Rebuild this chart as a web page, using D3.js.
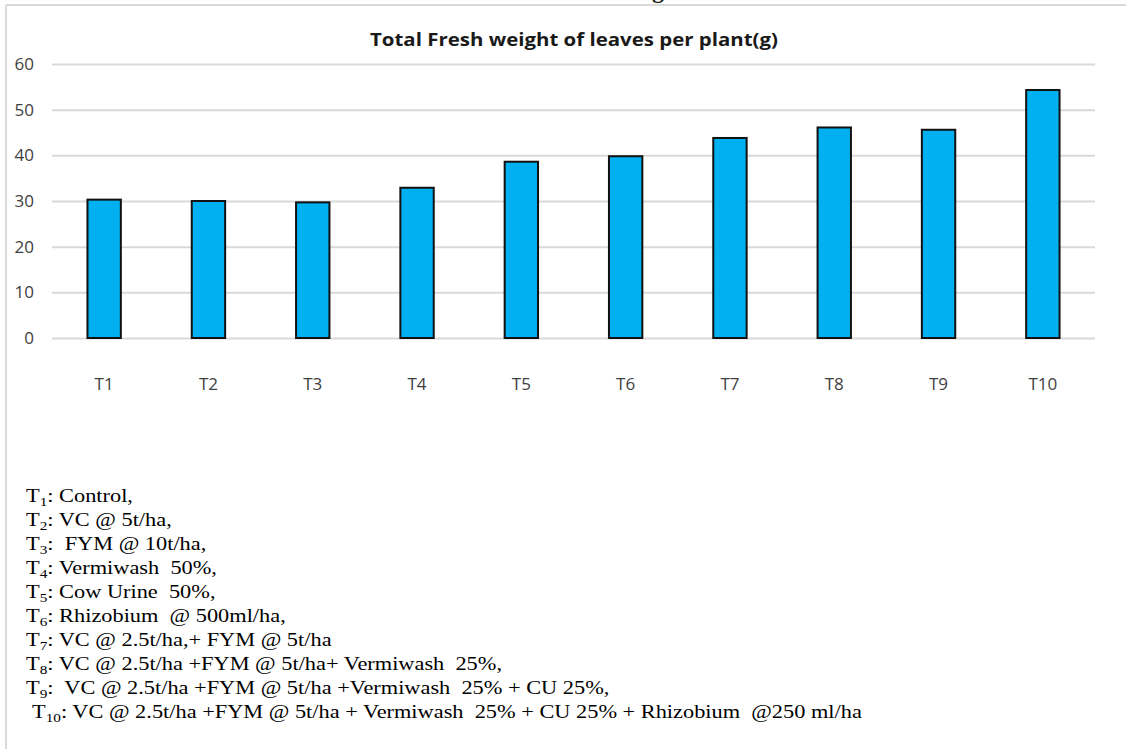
<!DOCTYPE html>
<html>
<head>
<meta charset="utf-8">
<script src="https://cdn.jsdelivr.net/npm/d3@7/dist/d3.min.js"></script>
<style>
  html, body { margin: 0; padding: 0; background: #ffffff; }
  svg { display: block; }
  text { white-space: pre; }
</style>
</head>
<body>
<script>
// Treatments and total fresh weight of leaves per plant (g)
const categories = ["T1", "T2", "T3", "T4", "T5", "T6", "T7", "T8", "T9", "T10"];
const freshWeight = [30.3, 30.0, 29.7, 32.9, 38.6, 39.8, 43.8, 46.1, 45.6, 54.3];
const yTicks = [0, 10, 20, 30, 40, 50, 60];
const chartTitle = "Total Fresh weight of leaves per plant(g)";

// Treatment key shown beneath the chart
const keySubscripts = ["1", "2", "3", "4", "5", "6", "7", "8", "9", "10"];
const keyTexts = [
  "Control,",
  "VC @ 5t/ha,",
  " FYM @ 10t/ha,",
  "Vermiwash  50%,",
  "Cow Urine  50%,",
  "Rhizobium  @ 500ml/ha,",
  "VC @ 2.5t/ha,+ FYM @ 5t/ha",
  "VC @ 2.5t/ha +FYM @ 5t/ha+ Vermiwash  25%,",
  " VC @ 2.5t/ha +FYM @ 5t/ha +Vermiwash  25% + CU 25%,",
  "VC @ 2.5t/ha +FYM @ 5t/ha + Vermiwash  25% + CU 25% + Rhizobium  @250 ml/ha"
];

const W = 1126, H = 749;
const svg = d3.select("body").append("svg").attr("width", W).attr("height", H);

// outer frame (top and left edges)
svg.append("line").attr("x1", 6).attr("x2", W).attr("y1", 5).attr("y2", 5)
  .attr("stroke", "#d9d9d9").attr("stroke-width", 2);
svg.append("line").attr("x1", 6).attr("x2", 6).attr("y1", 5).attr("y2", H)
  .attr("stroke", "#d9d9d9").attr("stroke-width", 2);

// descender of the heading above the frame
svg.append("text").attr("x", 652).attr("y", -2)
  .attr("font-family", "'Liberation Serif', serif").attr("font-weight", "bold")
  .attr("font-size", 24).attr("fill", "#222").text("g");

const plot = { left: 52, right: 1095, top: 64, bottom: 338 };

const x = d3.scaleBand().domain(categories)
  .range([plot.left, plot.right]).paddingInner(0.68).paddingOuter(0.34);
const y = d3.scaleLinear().domain([0, 60]).range([plot.bottom, plot.top]);

// title
svg.append("text").attr("x", 574).attr("y", 46)
  .attr("text-anchor", "middle")
  .attr("font-family", "'Open Sans', sans-serif").attr("font-weight", "bold")
  .attr("font-size", 18).attr("fill", "#1a1a1a")
  .attr("textLength", 408).attr("lengthAdjust", "spacingAndGlyphs")
  .text(chartTitle);

// gridlines + y labels
const yAxis = d3.axisLeft(y).tickValues(yTicks).tickSize(-(plot.right - plot.left)).tickPadding(18);
const gy = svg.append("g").attr("transform", `translate(${plot.left},0)`).call(yAxis);
gy.select(".domain").remove();
gy.selectAll(".tick line").attr("stroke", "#d9d9d9").attr("stroke-width", 2);
gy.selectAll(".tick text")
  .attr("font-family", "'Open Sans', sans-serif").attr("font-size", 17)
  .attr("fill", "#404040");

// bars
svg.append("g").selectAll("rect").data(freshWeight).join("rect")
  .attr("x", (d, i) => x(categories[i]))
  .attr("width", x.bandwidth())
  .attr("y", d => y(d))
  .attr("height", d => y(0) - y(d))
  .attr("fill", "#00b0f0")
  .attr("stroke", "#111")
  .attr("stroke-width", 2);

// category labels
const xAxis = d3.axisBottom(x).tickSize(0).tickPadding(40);
const gx = svg.append("g").attr("transform", `translate(0,${plot.bottom})`).call(xAxis);
gx.select(".domain").remove();
gx.selectAll(".tick text")
  .attr("font-family", "'Open Sans', sans-serif").attr("font-size", 17)
  .attr("fill", "#404040");

// treatment key
const key = svg.append("g").attr("class", "key");
keyTexts.forEach((t, i) => {
  const row = key.append("text")
    .attr("x", i === 9 ? 32 : 26)
    .attr("y", 502 + i * 24)
    .attr("font-family", "'Liberation Serif', 'Times New Roman', serif")
    .attr("font-size", 19).attr("fill", "#000");
  row.append("tspan").text("T");
  row.append("tspan").attr("font-size", 13).attr("dy", 4).text(keySubscripts[i]);
  row.append("tspan").attr("dy", -4).text(": " + t);
});
// stretch the key horizontally so the last row spans its width
const last = key.selectAll("text").nodes()[9];
const bb = last.getBBox();
const sx = (863 - 32) / bb.width;
key.selectAll("text").each(function () {
  const x0 = +d3.select(this).attr("x");
  d3.select(this).attr("transform", `translate(${x0},0) scale(${sx},1) translate(${-x0},0)`);
});
</script>
</body>
</html>
